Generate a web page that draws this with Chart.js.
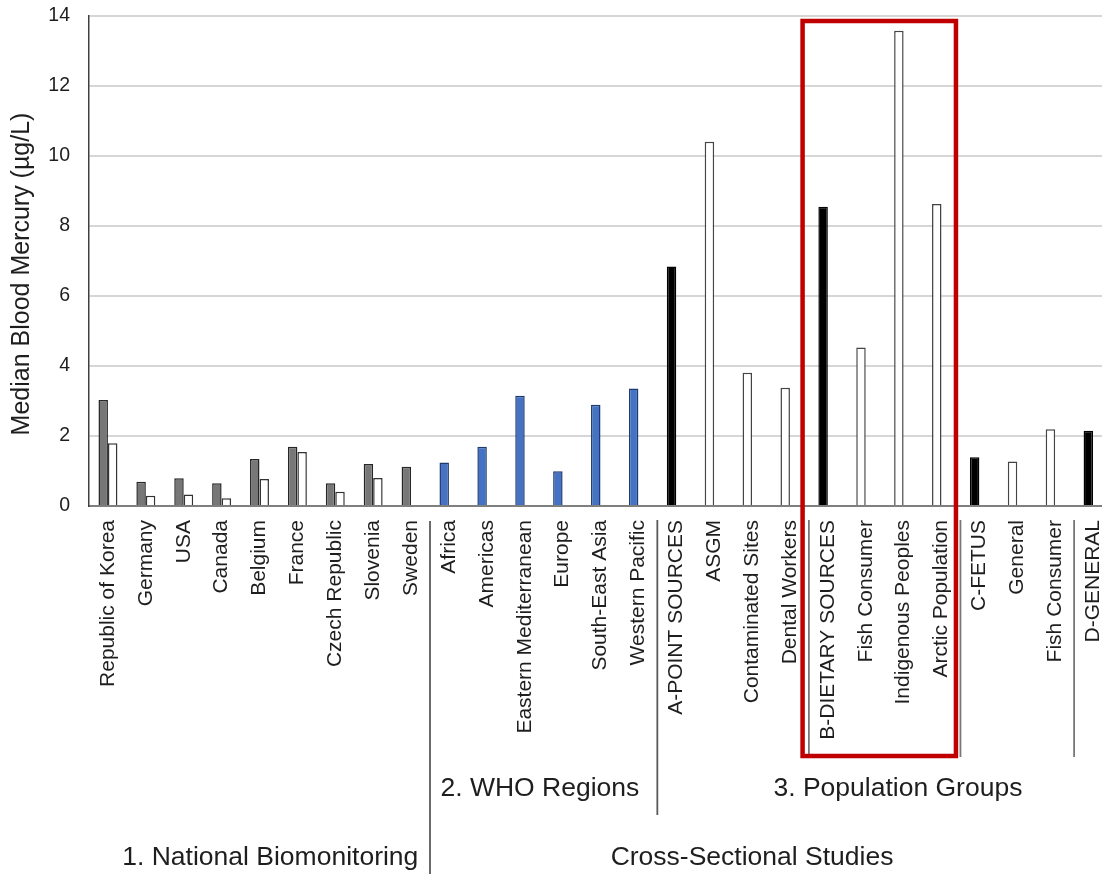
<!DOCTYPE html>
<html>
<head>
<meta charset="utf-8">
<script src="https://cdn.jsdelivr.net/npm/chart.js@4/dist/chart.umd.min.js"></script>
<style>
  html, body { margin: 0; padding: 0; background: #fff; overflow: hidden; width: 1102px; height: 874px; }
  #wrap { position: relative; width: 1112px; height: 874px; }
</style>
</head>
<body>
<div id="wrap"><canvas id="c" width="1112" height="874"></canvas></div>
<script>
// Median blood mercury by study group (µg/L)
const nationalLabels = ['Republic of Korea', 'Germany', 'USA', 'Canada', 'Belgium', 'France', 'Czech Republic', 'Slovenia', 'Sweden'];
const nationalFirst  = [3.03, 0.69, 0.79, 0.65, 1.34, 1.69, 0.65, 1.20, 1.12];
const nationalSecond = [1.79, 0.29, 0.33, 0.22, 0.77, 1.54, 0.41, 0.80, null];

const whoLabels = ['Africa', 'Americas', 'Eastern Mediterranean', 'Europe', 'South-East Asia', 'Western Pacific'];
const whoValues = [1.24, 1.69, 3.15, 0.99, 2.89, 3.36];

const populationLabels = ['A-POINT SOURCES', 'ASGM', 'Contaminated Sites', 'Dental Workers',
                          'B-DIETARY SOURCES', 'Fish Consumer', 'Indigenous Peoples', 'Arctic Population',
                          'C-FETUS', 'General', 'Fish Consumer', 'D-GENERAL'];
const populationValues = [6.84, 10.41, 3.81, 3.38, 8.55, 4.53, 13.58, 8.63, 1.39, 1.27, 2.19, 2.15];

const yTickValues = [0, 2, 4, 6, 8, 10, 12, 14];
const yTitle = 'Median Blood Mercury (µg/L)';
const nationalTitle = '1. National Biomonitoring';
const whoTitle = '2. WHO Regions';
const populationTitle = '3. Population Groups';
const crossTitle = 'Cross-Sectional Studies';

// ---- derived series ----
const labels = [...nationalLabels, ...whoLabels, ...populationLabels];
const firstSeries = [...nationalFirst, ...whoValues, ...populationValues];
const secondSeries = [...nationalSecond, ...whoLabels.map(() => null), ...populationLabels.map(() => null)];

const nN = nationalLabels.length;
const nW = whoLabels.length;
const isHeading = l => /^[A-D]-/.test(l);

const firstFill = labels.map((l, i) =>
  i < nN ? '#777777' : i < nN + nW ? '#4472c4' : isHeading(l) ? '#000000' : '#ffffff');
const firstBorder = labels.map((l, i) =>
  i < nN ? '#262626' : i < nN + nW ? '#1f3a6e' : isHeading(l) ? '#000000' : '#444444');

const headingIdx = labels.map((l, i) => isHeading(l) ? i : -1).filter(i => i >= 0);

const FONT = '"Liberation Sans", Arial, Helvetica, sans-serif';
const TEXT = '#1e1e1e';
Chart.defaults.font.family = FONT;
Chart.defaults.color = TEXT;

// Group separators, group captions, axis title and highlight frame
const annotate = {
  id: 'annotate',
  afterDraw(chart) {
    const ctx = chart.ctx;
    const x = chart.scales.x;
    const edge = k => x.getPixelForValue(k - 0.5);
    const at = v => x.getPixelForValue(v);
    const H = chart.height;

    ctx.save();
    // separators between category groups
    const vline = (px, y0, y1, color, w) => {
      ctx.beginPath();
      ctx.strokeStyle = color;
      ctx.lineWidth = w;
      ctx.moveTo(px, y0);
      ctx.lineTo(px, y1);
      ctx.stroke();
    };
    vline(edge(nN), 521, H, '#5a5a5a', 1.8);
    vline(edge(nN + nW), 520, 815, '#5a5a5a', 1.8);
    headingIdx.filter(i => i > nN + nW).forEach(i => vline(edge(i), 520, 757, '#777777', 1.8));

    // group captions
    ctx.fillStyle = TEXT;
    ctx.textAlign = 'center';
    ctx.textBaseline = 'middle';
    ctx.font = '26.5px ' + FONT;
    ctx.fillText(whoTitle, at(11.4), 789);
    ctx.fillText(populationTitle, at(20.85), 789);
    ctx.fillText(nationalTitle, at(4.285), 858);
    ctx.fillText(crossTitle, at(17.0), 858);

    // y axis title
    ctx.save();
    ctx.translate(22, 274);
    ctx.rotate(-Math.PI / 2);
    ctx.font = '25px ' + FONT;
    ctx.fillText(yTitle, 0, 0);
    ctx.restore();

    // highlight frame around the dietary-sources group
    const bStart = headingIdx[1], bEnd = headingIdx[2];
    const left = edge(bStart) - 6.3;
    const right = edge(bEnd) - 4.5;
    ctx.strokeStyle = '#c00000';
    ctx.lineWidth = 4.5;
    ctx.lineJoin = 'miter';
    ctx.strokeRect(left, 21, right - left, 756 - 21);
    ctx.restore();
  }
};

new Chart(document.getElementById('c'), {
  type: 'bar',
  data: {
    labels,
    datasets: [
      {
        data: firstSeries,
        backgroundColor: firstFill,
        borderColor: firstBorder,
        borderWidth: 1.5,
        categoryPercentage: 0.5,
        barPercentage: 1.0
      },
      {
        data: secondSeries,
        backgroundColor: '#ffffff',
        borderColor: '#333333',
        borderWidth: 1.5,
        categoryPercentage: 0.5,
        barPercentage: 1.0
      }
    ]
  },
  options: {
    responsive: false,
    animation: false,
    devicePixelRatio: 1,
    layout: { padding: { top: 16, left: 0, right: 0, bottom: 0 } },
    plugins: { legend: { display: false }, tooltip: { enabled: false } },
    scales: {
      x: {
        offset: true,
        grid: { display: false, drawTicks: false },
        border: { display: true, color: '#7f7f7f', width: 2 },
        ticks: {
          autoSkip: false,
          minRotation: 90,
          maxRotation: 90,
          padding: 14,
          color: TEXT,
          font: { size: 21, family: FONT }
        },
        afterFit: s => { s.height = 368; s.paddingLeft = 0; s.paddingRight = 0; }
      },
      y: {
        min: 0,
        max: 14,
        afterBuildTicks: s => { s.ticks = yTickValues.map(v => ({ value: v })); },
        grid: { color: '#d6d6d6', lineWidth: 2, drawTicks: false },
        border: { display: true, color: '#404040', width: 1.5 },
        ticks: {
          padding: 19,
          color: TEXT,
          font: { size: 19.5, family: FONT }
        },
        afterFit: s => { s.width = 89; s.paddingTop = 0; s.paddingBottom = 0; }
      }
    }
  },
  plugins: [annotate]
});
</script>
</body>
</html>
